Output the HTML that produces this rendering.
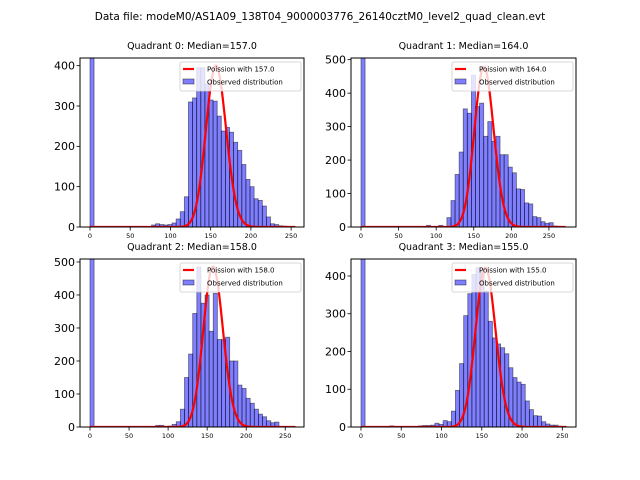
<!DOCTYPE html>
<html><head><meta charset="utf-8"><style>
body{margin:0;background:#fff;}
svg{display:block;font-family:"DejaVu Sans","Liberation Sans",sans-serif;}
</style></head><body>
<svg id="fig" width="640" height="480" viewBox="0 0 640 480">
<rect width="640" height="480" fill="#fff"/>
<text x="320" y="20" text-anchor="middle" font-size="10.5">Data file: modeM0/AS1A09_138T04_9000003776_26140cztM0_level2_quad_clean.evt</text>
</svg>
<script>
const medians = [157.0, 164.0, 158.0, 155.0];
const counts0 = [2000,0,0,0,0,0,0,0,0,0,0,0,0,0,0,5,8,6,5,6,10,20,38,75,310,320,395,395,355,315,312,275,238,247,235,210,190,155,118,100,70,66,52,25,8,6,3,2,1,1];
const counts1 = [2000,0,0,0,0,0,0,0,0,0,0,0,0,0,0,0,5,0,0,5,0,28,79,157,224,353,340,454,360,370,271,315,256,271,216,216,179,162,114,112,72,69,31,28,16,11,13,3,2,1];
const counts2 = [2000,0,0,0,0,0,0,0,0,0,0,0,0,0,0,0,5,5,0,3,8,16,54,150,221,344,485,375,400,290,405,265,265,272,200,200,127,117,87,72,54,39,31,19,13,15,0,0,0,1];
const counts3 = [2000,0,0,0,0,0,0,3,0,0,0,0,0,0,3,4,4,5,10,7,17,14,42,97,168,295,353,404,422,413,360,280,236,220,210,194,157,131,119,113,69,46,30,29,14,8,5,5,2,1];
const dataMax = [255, 272, 263, 255];
const poissonPeak = [400, 479, 486, 422];
const yTicks0 = [0,100,200,300,400];
const yTicks1 = [0,100,200,300,400,500];
const yTicks2 = [0,100,200,300,400,500];
const yTicks3 = [0,100,200,300,400];
const xTicks = [0,50,100,150,200,250];

const NS = "http://www.w3.org/2000/svg";
const fig = document.getElementById('fig');
function mk(tag, attrs, parent){const e=document.createElementNS(NS,tag);for(const k in attrs)e.setAttribute(k,attrs[k]);(parent||fig).appendChild(e);return e;}
function lgam(n){let s=0;for(let i=2;i<=n;i++)s+=Math.log(i);return s;}

const layout = [
 {l:80,r:304,t:58,b:227,x0:-12.4,x1:266,y1:419,counts:counts0,yt:yTicks0},
 {l:351,r:576,t:58,b:227,x0:-13.3,x1:286,y1:505,counts:counts1,yt:yTicks1},
 {l:80,r:304,t:259,b:427,x0:-12.8,x1:274,y1:509,counts:counts2,yt:yTicks2},
 {l:351,r:576,t:259,b:427,x0:-12.4,x1:267,y1:445,counts:counts3,yt:yTicks3}
];

layout.forEach((L,q)=>{
  const g = mk('g',{});
  
  
  const xs = v => L.l + (v-L.x0)/(L.x1-L.x0)*(L.r-L.l);
  const ys = v => L.b - v/L.y1*(L.b-L.t);
  const cid='clip'+q;
  const cp=mk('clipPath',{id:cid},g); mk('rect',{x:L.l,y:L.t,width:L.r-L.l,height:L.b-L.t},cp);
  const title = mk('text',{x:(L.l+L.r)/2,y:L.t-9,'text-anchor':'middle','font-size':'9.5'},g);
  title.textContent='Quadrant '+q+': Median='+medians[q].toFixed(1);
  
  
  const bars = mk('g',{'clip-path':'url(#'+cid+')'},g);
  const w = dataMax[q]/L.counts.length;
  L.counts.forEach((c,i)=>{
    if(c<=0) return;
    const r = mk('rect',{x:xs(i*w),y:ys(c),width:xs((i+1)*w)-xs(i*w),height:ys(0)-ys(c),fill:'rgba(0,0,255,0.5)',stroke:'rgba(0,0,0,0.5)','stroke-width':'0.8'},bars);
    
    
  });
  const lam = medians[q];
  const lpeak = Math.floor(lam)*Math.log(lam)-lam-lgam(Math.floor(lam));
  let d='';
  for(let k=0;k<=dataMax[q];k++){
    const p = Math.exp(k*Math.log(lam)-lam-lgam(k)-lpeak)*poissonPeak[q];
    d += (k?'L':'M')+xs(k).toFixed(2)+','+ys(p).toFixed(2);
  }
  const pl = mk('path',{d:d,fill:'none',stroke:'#ff0000','stroke-width':'2.2','clip-path':'url(#'+cid+')'},g);
  
  
  const ax = mk('rect',{x:L.l,y:L.t,width:L.r-L.l,height:L.b-L.t,fill:'none',stroke:'#000','stroke-width':'1'},g);
  
  
  xTicks.forEach(v=>{
    mk('line',{x1:xs(v),x2:xs(v),y1:L.b,y2:L.b+3.5,stroke:'#000','stroke-width':'0.8'},g);
    const t=mk('text',{x:xs(v),y:L.b+11,'text-anchor':'middle','font-size':'6.5'},g);
    t.textContent=v;
    
    
  });
  L.yt.forEach(v=>{
    mk('line',{x1:L.l-3.5,x2:L.l,y1:ys(v),y2:ys(v),stroke:'#000','stroke-width':'0.8'},g);
    const t=mk('text',{x:L.l-5,y:ys(v)+3.8,'text-anchor':'end','font-size':'11'},g);
    t.textContent=v;
    
    
  });
  const lg = mk('g',{},g);
  
  
  const lx=L.r-124, ly=L.t+4;
  mk('rect',{x:lx,y:ly,width:121,height:29,rx:2,fill:'rgba(255,255,255,0.8)',stroke:'#ccc','stroke-width':'0.8'},lg);
  mk('line',{x1:lx+3,x2:lx+14,y1:ly+7,y2:ly+7,stroke:'#ff0000','stroke-width':'2.2'},lg);
  mk('rect',{x:lx+3,y:ly+17,width:11,height:5,fill:'rgba(0,0,255,0.5)',stroke:'rgba(0,0,0,0.5)','stroke-width':'0.8'},lg);
  const t1=mk('text',{x:lx+27,y:ly+9.5,'font-size':'7'},lg); t1.textContent='Poission with '+medians[q].toFixed(1);
  
  
  const t2=mk('text',{x:lx+27,y:ly+22.5,'font-size':'7'},lg); t2.textContent='Observed distribution';
  
  
});
</script>
</body></html>
